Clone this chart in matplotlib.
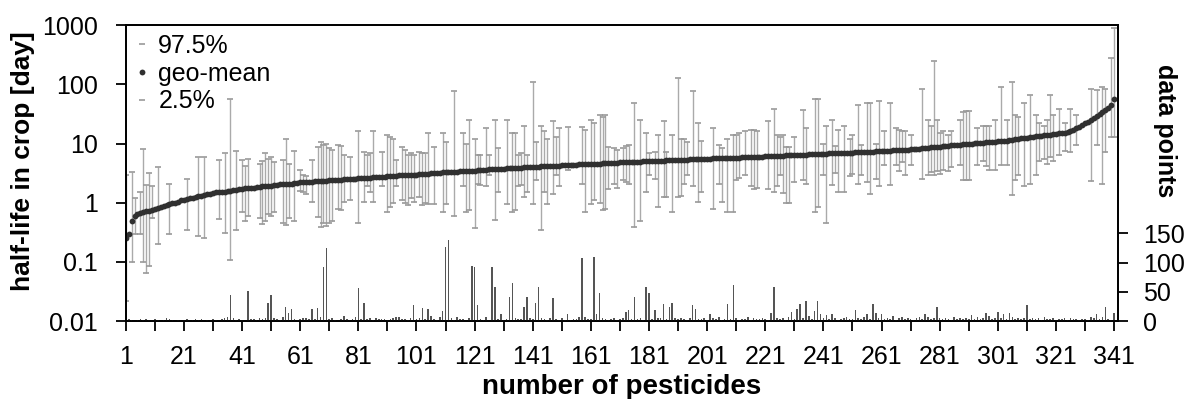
import numpy as np
from matplotlib import pyplot as plt

plt.rcParams['font.family'] = ['Liberation Sans', 'DejaVu Sans']

nan = float('nan')

# geometric mean half-life per pesticide (sorted), days
geo_mean = [
    0.25, 0.3, 0.5, 0.6, 0.65, 0.68, 0.7, 0.72, 0.74, 0.76,
    0.8, 0.82, 0.85, 0.88, 0.92, 0.95, 1.0, 1.0, 1.05, 1.1,
    1.1, 1.15, 1.2, 1.2, 1.25, 1.3, 1.3, 1.35, 1.4, 1.4,
    1.45, 1.5, 1.5, 1.55, 1.55, 1.6, 1.6, 1.65, 1.65, 1.7,
    1.7, 1.75, 1.75, 1.8, 1.8, 1.85, 1.85, 1.9, 1.9, 1.95,
    1.95, 2.0, 2.0, 2.05, 2.05, 2.1, 2.1, 2.1, 2.15, 2.15,
    2.2, 2.2, 2.2, 2.25, 2.25, 2.3, 2.3, 2.3, 2.35, 2.35,
    2.4, 2.4, 2.4, 2.45, 2.45, 2.5, 2.5, 2.5, 2.55, 2.55,
    2.6, 2.6, 2.6, 2.65, 2.65, 2.7, 2.7, 2.7, 2.75, 2.75,
    2.8, 2.8, 2.85, 2.85, 2.9, 2.9, 2.95, 2.95, 3.0, 3.0,
    3.0, 3.05, 3.05, 3.1, 3.1, 3.15, 3.15, 3.2, 3.2, 3.25,
    3.25, 3.3, 3.3, 3.35, 3.35, 3.4, 3.4, 3.45, 3.45, 3.5,
    3.5, 3.55, 3.55, 3.6, 3.6, 3.65, 3.65, 3.7, 3.7, 3.75,
    3.75, 3.8, 3.8, 3.85, 3.85, 3.9, 3.9, 3.95, 4.0, 4.0,
    4.0, 4.05, 4.05, 4.1, 4.1, 4.15, 4.2, 4.2, 4.25, 4.25,
    4.3, 4.3, 4.35, 4.35, 4.4, 4.4, 4.45, 4.45, 4.5, 4.5,
    4.55, 4.55, 4.6, 4.6, 4.65, 4.65, 4.7, 4.7, 4.75, 4.75,
    4.8, 4.8, 4.85, 4.85, 4.9, 4.9, 4.95, 4.95, 5.0, 5.0,
    5.05, 5.05, 5.1, 5.1, 5.15, 5.15, 5.2, 5.2, 5.25, 5.25,
    5.3, 5.3, 5.35, 5.35, 5.4, 5.4, 5.45, 5.45, 5.5, 5.5,
    5.55, 5.55, 5.6, 5.6, 5.65, 5.65, 5.7, 5.7, 5.75, 5.75,
    5.8, 5.8, 5.85, 5.85, 5.9, 5.9, 5.95, 5.95, 6.0, 6.0,
    6.05, 6.1, 6.1, 6.15, 6.2, 6.2, 6.25, 6.3, 6.3, 6.35,
    6.4, 6.4, 6.45, 6.5, 6.5, 6.55, 6.6, 6.6, 6.65, 6.7,
    6.7, 6.75, 6.8, 6.8, 6.85, 6.9, 6.9, 6.95, 7.0, 7.0,
    7.05, 7.1, 7.1, 7.15, 7.2, 7.2, 7.25, 7.3, 7.35, 7.4,
    7.45, 7.5, 7.55, 7.6, 7.65, 7.7, 7.75, 7.8, 7.85, 7.9,
    7.95, 8.0, 8.1, 8.2, 8.3, 8.4, 8.5, 8.6, 8.7, 8.8,
    8.9, 9.0, 9.1, 9.2, 9.3, 9.4, 9.5, 9.6, 9.7, 9.8,
    9.9, 10.0, 10.1, 10.2, 10.3, 10.4, 10.5, 10.6, 10.7, 10.8,
    10.9, 11.0, 11.1, 11.2, 11.4, 11.6, 11.8, 12.0, 12.2, 12.4,
    12.6, 12.8, 13.0, 13.2, 13.4, 13.6, 13.8, 14.0, 14.2, 14.4,
    14.6, 14.8, 15.0, 15.2, 15.5, 16, 17, 18, 19, 20.5,
    22, 23.5, 25, 27, 29, 31, 34, 37, 40, 45, 57,
]

# 97.5 % percentile (nan = no bar drawn)
p975 = [
    3.0, nan, 3.3, 1.2, nan, 1.5, 8.0, 2.0, 3.2, 1.9,
    nan, 4.0, nan, nan, nan, 2.1, nan, nan, nan, nan,
    nan, 2.5, nan, nan, nan, 6.0, nan, 6.0, nan, nan,
    nan, nan, 5.3, nan, 6.8, nan, 56, nan, 7.6, nan,
    5.3, 4.2, 5.5, nan, nan, nan, 4.6, 5.0, 6.8, 5.5,
    6.0, 4.8, nan, nan, 5.3, 12, 4.5, nan, 7.5, nan,
    3.6, 3.0, 2.8, nan, 5.3, nan, 8.8, 10.7, 9.4, 10,
    8.3, 7.8, nan, 9.4, 9.0, 6.4, nan, 6.0, nan, nan,
    16, nan, 7.3, 6.4, 6.8, 16, nan, nan, 7.3, nan,
    14, 13, 12, 5.3, nan, 8.8, 7.8, 6.4, 7.0, 6.4,
    nan, 7.3, 6.9, 7.0, 15, nan, 8.8, nan, nan, 15,
    10.7, nan, nan, 78, nan, nan, 15, 10, 25, nan,
    12, 6.4, 6.4, nan, 18, 6.4, nan, 25, 8.3, nan,
    nan, 25, nan, 15, 15, 6.4, 6.8, 20, 6.4, nan,
    110, 10.7, nan, 20, 16, 12, nan, 24, 13, 18,
    nan, nan, 19, nan, nan, nan, nan, 19, 17, nan,
    25, 22, nan, 30, 28, 30, 8.8, nan, 8.3, 7.8,
    nan, 8.3, 9.0, 9.4, nan, 49, nan, 25, nan, 15,
    6.8, nan, 7.3, 14, nan, 24, 7.3, nan, 14, nan,
    130, 12, 12, 10.7, nan, 77, nan, 22, 11, nan,
    nan, nan, 18, nan, 9.4, 8.3, nan, 12, nan, 14,
    14, 15, nan, 16, nan, 17, 17, 16, nan, nan,
    nan, 24, nan, 38, 14, 13, 14, 8.8, 8.8, nan,
    13, nan, nan, 37, 18, nan, nan, 56, 56, nan,
    10, 20, nan, 25, 9.0, 17, nan, 20, nan, 12,
    14, nan, 45, 9.4, nan, 48, 48, nan, 10, 52,
    nan, 16, nan, 49, nan, 18, 17, 16, 16, nan,
    14, nan, nan, nan, 83, nan, 25, 20, 250, 25,
    15, 16, nan, 14, 16, nan, nan, 25, 34, 36,
    36, nan, nan, 18, nan, 20, 20, 20, nan, 25,
    nan, 90, nan, 25, nan, 108, 30, 28, nan, 49,
    nan, 66, nan, 30, 22, nan, 20, 25, 66, 30,
    nan, 38, nan, 22, nan, 38, nan, 30, nan, nan,
    nan, nan, 85, nan, 80, nan, 90, 85, nan, 275, 880,
]

# 2.5 % percentile
p025 = [
    0.022, nan, 0.1, 0.3, nan, 0.3, 0.1, 0.065, 0.085, 0.55,
    nan, 0.2, nan, nan, nan, 0.3, nan, nan, nan, nan,
    nan, 0.35, nan, nan, nan, 0.27, nan, 0.25, nan, nan,
    nan, nan, 0.53, nan, 0.31, nan, 0.11, nan, 0.35, nan,
    0.7, 0.5, 0.6, nan, nan, nan, 0.55, 0.44, 0.5, 0.65,
    0.6, 0.7, nan, nan, 0.45, 0.42, 0.55, nan, 0.49, nan,
    1.6, 1.5, 1.4, nan, 1.04, nan, 0.58, 0.39, 0.45, 0.4,
    0.45, 0.5, nan, 0.8, 0.75, 1.04, nan, 1.1, nan, nan,
    0.45, nan, 1.04, 1.9, 1.5, 1.04, nan, nan, 1.9, nan,
    0.7, 0.85, 1.0, 1.9, nan, 1.1, 1.0, 0.9, 1.2, 1.04,
    nan, 1.26, 0.9, 1.0, 0.97, nan, 0.97, nan, nan, 0.7,
    0.97, nan, nan, 0.6, nan, nan, 1.9, 0.7, 0.75, nan,
    0.37, 2.1, 2.0, nan, 1.9, 2.9, nan, 0.52, 1.5, nan,
    nan, 0.97, nan, 0.7, 0.75, 1.9, 2.0, 1.26, 1.5, nan,
    0.97, 2.4, nan, 0.35, 1.5, 0.97, nan, 1.4, 2.9, 1.9,
    nan, nan, 3.6, nan, nan, nan, nan, 2.1, 0.7, nan,
    0.97, 1.1, nan, 1.0, 0.75, 0.8, 1.7, nan, 2.1, 1.8,
    nan, 2.4, 2.2, 2.1, nan, 0.39, nan, 0.49, nan, 1.5,
    2.9, nan, 2.5, 0.86, nan, 1.26, 1.26, nan, 0.7, nan,
    1.26, 1.3, 2.1, 2.9, nan, 1.9, nan, 1.04, 1.5, nan,
    nan, nan, 0.8, nan, 2.1, 1.04, nan, 0.7, nan, 0.7,
    2.4, 2.6, nan, 2.9, nan, 1.9, 1.7, 1.8, nan, nan,
    nan, 1.7, nan, 1.5, 1.9, 2.9, 1.44, 1.0, 1.0, nan,
    2.2, nan, nan, 2.4, 2.1, nan, nan, 0.7, 0.86, nan,
    3.0, 0.45, nan, 2.0, 3.2, 1.5, nan, 1.5, nan, 2.8,
    3.1, nan, 2.1, 2.9, nan, 2.2, 1.4, nan, 2.5, 1.9,
    nan, 4.4, nan, 2.0, nan, 4.4, 3.5, 4.8, 3.0, nan,
    4.4, nan, nan, nan, 2.5, nan, 2.9, 3.3, 2.9, 3.5,
    3.1, 3.6, nan, 3.4, 4.0, nan, nan, 4.3, 2.4, 2.4,
    2.4, nan, nan, 4.4, nan, 5.0, 4.2, 3.6, nan, 3.6,
    nan, 4.3, nan, 4.3, nan, 1.35, 2.4, 3.0, nan, 1.9,
    nan, 2.1, nan, 2.9, 5.0, nan, 5.5, 4.5, 6.0, 5.0,
    nan, 6.4, nan, 7.5, nan, 7.2, nan, 9.4, nan, nan,
    nan, nan, 2.3, nan, 9.4, nan, 2.1, 7.3, nan, 13, 13,
]

# number of data points per pesticide
n_points = [
    2, 3, 2, 1, 2, 3, 2, 4, 2, 1,
    3, 2, 1, 2, 6, 3, 2, 1, 2, 1,
    2, 3, 1, 2, 4, 2, 3, 1, 2, 1,
    3, 2, 1, 4, 6, 8, 44, 5, 2, 3,
    2, 1, 51, 4, 3, 2, 6, 3, 5, 31,
    44, 6, 3, 2, 8, 24, 14, 20, 4, 2,
    3, 6, 5, 4, 20, 3, 22, 8, 92, 124,
    3, 5, 2, 1, 4, 9, 3, 2, 4, 7,
    56, 4, 31, 3, 6, 2, 5, 3, 4, 3,
    2, 3, 6, 8, 7, 4, 3, 2, 5, 27,
    3, 6, 22, 4, 21, 9, 3, 2, 7, 18,
    127, 138, 5, 2, 8, 3, 4, 1, 6, 95,
    92, 27, 3, 2, 8, 1, 93, 58, 4, 13,
    2, 3, 41, 65, 6, 3, 4, 24, 41, 5,
    3, 31, 58, 6, 4, 2, 5, 39, 3, 2,
    6, 2, 12, 2, 4, 3, 7, 107, 8, 4,
    3, 110, 12, 48, 5, 3, 2, 4, 6, 2,
    3, 5, 16, 19, 4, 41, 3, 6, 2, 58,
    48, 4, 19, 5, 6, 30, 3, 24, 31, 6,
    4, 5, 3, 2, 6, 27, 20, 4, 3, 6,
    2, 13, 5, 3, 8, 2, 4, 30, 3, 61,
    6, 2, 4, 3, 7, 2, 5, 3, 4, 6,
    3, 2, 14, 58, 5, 3, 6, 2, 8, 16,
    4, 20, 30, 6, 34, 9, 4, 18, 34, 12,
    6, 10, 3, 12, 5, 2, 4, 6, 8, 3,
    4, 19, 6, 3, 8, 12, 3, 30, 14, 5,
    12, 4, 6, 3, 9, 2, 5, 8, 3, 6,
    4, 2, 5, 7, 3, 12, 8, 4, 6, 24,
    5, 3, 6, 4, 2, 8, 3, 5, 4, 6,
    3, 10, 4, 7, 3, 5, 14, 9, 4, 6,
    16, 5, 12, 3, 14, 8, 4, 6, 3, 5,
    27, 4, 6, 3, 5, 2, 7, 4, 3, 5,
    2, 4, 3, 6, 2, 5, 3, 4, 2, 3,
    4, 2, 7, 5, 12, 3, 8, 24, 4, 2, 14,
]

x_ticks = list(range(1, 342, 10))
x_labels = [str(t) if (t - 1) % 20 == 0 else '' for t in x_ticks]
y_ticks = [0.01, 0.1, 1, 10, 100, 1000]
y_labels = ['0.01', '0.1', '1', '10', '100', '1000']
n_ticks = [0, 50, 100, 150]

x = np.arange(1, len(geo_mean) + 1)
gm = np.array(geo_mean)
hi = np.array(p975)
lo = np.array(p025)
has_bar = ~np.isnan(hi)

fig = plt.figure(figsize=(11.87, 3.99), dpi=100)
ax = fig.add_axes([0.106, 0.195, 0.836, 0.742])

ax.vlines(x[has_bar], lo[has_bar], hi[has_bar], color='#aaaaaa', lw=1.0, zorder=1)
ax.plot(x, hi, ls='none', marker='_', ms=5, mew=1.2, color='#999999', label='97.5%', zorder=2)
ax.plot(x, gm, ls='none', marker='o', ms=4.2, mew=0, color='#303030', label='geo-mean', zorder=3)
ax.plot(x, lo, ls='none', marker='_', ms=5, mew=1.2, color='#999999', label='2.5%', zorder=2)

ax.set_yscale('log')
ax.set_ylim(0.01, 1000)
ax.set_yticks(y_ticks)
ax.set_yticklabels(y_labels)
ax.minorticks_off()
ax.set_xlim(1, 342.4)
ax.set_xticks(x_ticks)
ax.set_xticklabels(x_labels)
ax.tick_params(axis='both', labelsize=18, length=7, width=1.3, direction='out')
ax.tick_params(axis='y', pad=13)
ax.tick_params(axis='x', pad=10)
ax.set_ylabel('half-life in crop [day]', fontsize=19, fontweight='bold')
ax.yaxis.label.set_va('center')
ax.yaxis.set_label_coords(-0.104, 0.54)
ax.set_xlabel('number of pesticides', fontsize=20, fontweight='bold', labelpad=4)
for s in ax.spines.values():
    s.set_linewidth(1.3)

leg = ax.legend(loc='upper left', frameon=False, fontsize=18, handlelength=0.6,
                handletextpad=0.35, labelspacing=0.15, borderaxespad=0.1,
                borderpad=0.25, markerscale=1.0)

ax2 = ax.twinx()
ax2.bar(x, n_points, width=0.55, color='#555555', linewidth=0)
ax2.set_ylim(0, 505)
ax2.set_yticks(n_ticks)
ax2.tick_params(axis='y', labelsize=18, length=7, width=1.3, direction='out', pad=11)
ax2.set_ylabel('data points', fontsize=18, fontweight='bold', rotation=270)
ax2.yaxis.label.set_va('center')
ax2.yaxis.set_label_coords(1.047, 0.645)
for s in ax2.spines.values():
    s.set_linewidth(1.3)

fig.savefig('out.png', dpi=100)
